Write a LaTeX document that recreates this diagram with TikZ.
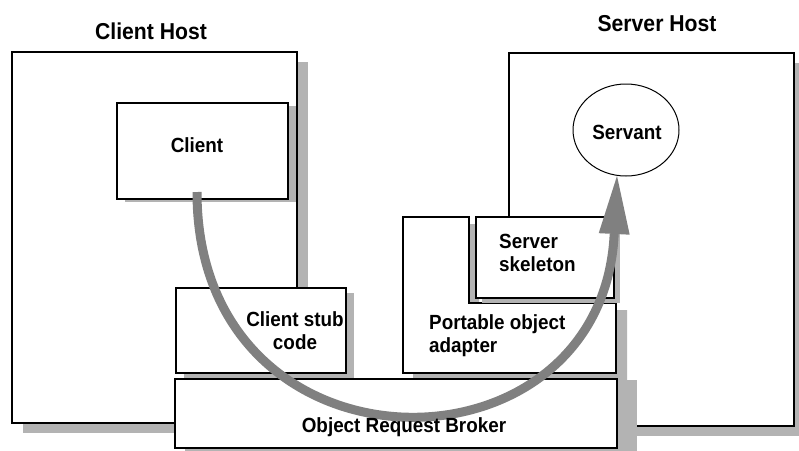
\documentclass[tikz,border=0pt]{standalone}
\usepackage{fontspec}
\setmainfont{Liberation Sans}[FakeStretch=0.92]
\usetikzlibrary{arrows.meta,calc,shapes.geometric}
\definecolor{shadowc}{HTML}{B3B3B3}
\definecolor{arrowc}{HTML}{808080}
\tikzset{
  box/.style={draw, line width=2.2pt, fill=white, rectangle, inner sep=0pt, outer sep=0pt, anchor=north west},
  lbl/.style={font=\fontsize{20.5}{23}\selectfont\bfseries, align=center, inner sep=0pt},
  lbll/.style={font=\fontsize{20.5}{23}\selectfont\bfseries, align=left, inner sep=0pt, anchor=west},
  ttl/.style={font=\fontsize{23}{27}\selectfont\bfseries, inner sep=0pt},
  shd/.style={fill=shadowc, draw=none},
  flow/.style={draw=arrowc, line width=9pt, -{Triangle[length=58pt,width=31pt,line width=0pt,fill=arrowc]}}
}
\begin{document}
\begin{tikzpicture}[x=1pt,y=-1pt]
\useasboundingbox[fill=white] (0,0) rectangle (799,450);

% Client host
\node[box, minimum width=285pt, minimum height=371pt] (clienthost) at (12,52) {};
\fill[shd] ([shift={(11,10)}]clienthost.north west) rectangle ([shift={(11,10)}]clienthost.south east);
\node[box, minimum width=285pt, minimum height=371pt] at (12,52) {};

% Client
\node[box, minimum width=171pt, minimum height=96pt] (client) at (117,103) {};
\fill[shd] ([shift={(8,3)}]client.north west) rectangle ([shift={(8,3)}]client.south east);
\node[box, minimum width=171pt, minimum height=96pt] at (117,103) {};

% Server host
\node[box, minimum width=285pt, minimum height=373pt] (serverhost) at (509,53) {};
\fill[shd] ([shift={(11,10)}]serverhost.north west) rectangle ([shift={(11,10)}]serverhost.south east);
\node[box, minimum width=285pt, minimum height=373pt] at (509,53) {};

% Servant
\node[draw, ellipse, line width=1pt, fill=white, minimum width=106pt, minimum height=92pt, inner sep=0pt] (servant) at (626,130) {};

% Portable object adapter (L shape)
\fill[shd] (413,224) -- (479,224) -- (479,310) -- (627,310) -- (627,380) -- (413,380) -- cycle;
\draw[line width=2.2pt, fill=white] (403,217) -- (469,217) -- (469,303) -- (616,303) -- (616,373) -- (403,373) -- cycle;

% Server skeleton
\node[box, minimum width=138pt, minimum height=81pt] (skeleton) at (476,217) {};
\fill[shd] ([shift={(6,5)}]skeleton.north west) rectangle ([shift={(6,5)}]skeleton.south east);
\node[box, minimum width=138pt, minimum height=81pt] at (476,217) {};

% Client stub code
\node[box, minimum width=170pt, minimum height=85pt] (stub) at (176,288) {};
\fill[shd] ([shift={(8,5)}]stub.north west) rectangle ([shift={(8,5)}]stub.south east);
\node[box, minimum width=170pt, minimum height=85pt] at (176,288) {};

% Object Request Broker
\node[box, minimum width=442pt, minimum height=69pt] (orb) at (175,379) {};
\fill[shd] ([shift={(0,1)}]orb.north east) rectangle ([shift={(20,12)}]orb.south east);
\fill[shd] ([shift={(10,0)}]orb.south west) rectangle ([shift={(20,12)}]orb.south east);
\node[box, minimum width=442pt, minimum height=69pt] at (175,379) {};

% Flow arrow
\coordinate (as) at (197,192);
\coordinate (at) at (617,176);
\draw[flow] (as) .. controls (197,485) and (602,485) .. (at);

% Labels
\node[ttl] (clienthosttitle) at (151,31) {Client Host};
\node[ttl] (serverhosttitle) at (657,24) {Server Host};
\node[lbl] (clienttext) at (197,145.5) {Client};
\node[lbl] (servanttext) at (627,132.5) {Servant};
\node[lbl] (stubtext) at (295,331) {Client stub\\code};
\node[lbll] (skeltext) at (499,253) {Server\\skeleton};
\node[lbll] (poatext) at (429,336) {Portable object\\adapter};
\node[lbl] (orbtext) at (404,427.5) {Object Request Broker};
\end{tikzpicture}
\end{document}
